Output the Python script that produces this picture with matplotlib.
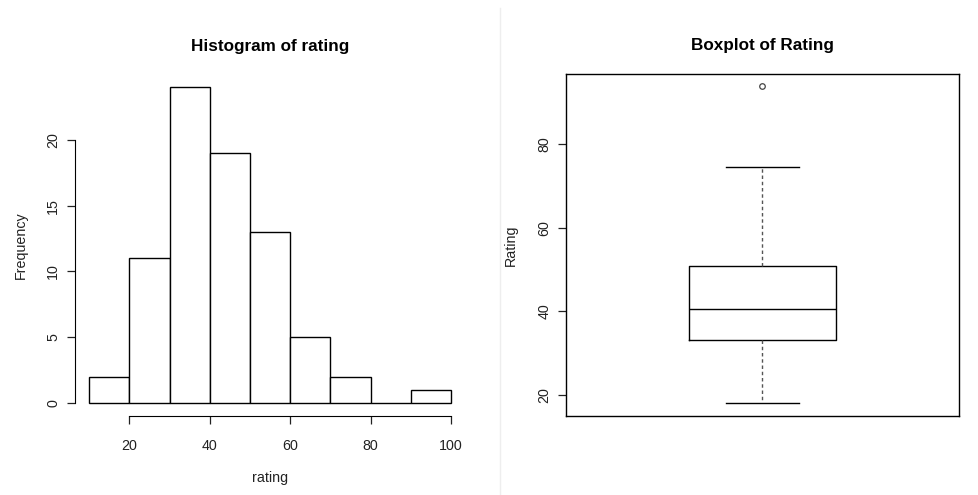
"""Histogram and boxplot of rating, R base-graphics look."""
import matplotlib
matplotlib.use("Agg")
import matplotlib.pyplot as plt
from matplotlib.lines import Line2D

plt.rcParams["font.family"] = ["Liberation Sans", "DejaVu Sans"]

# ---- data ----
bin_edges = [10, 20, 30, 40, 50, 60, 70, 80, 90, 100]
counts = [2, 11, 24, 19, 13, 5, 2, 0, 1]

box_low_whisker = 18.1
box_q1 = 33.2
box_median = 40.5
box_q3 = 50.8
box_high_whisker = 74.6
box_outliers = [94.0]

hist_xticks = [20, 40, 60, 80, 100]
hist_yticks = [0, 5, 10, 15, 20]
box_yticks = [20, 40, 60, 80]

TXT = "#222222"
TICK_FS = 10.3
LAB_FS = 10.3
TITLE_FS = 12.3

fig = plt.figure(figsize=(9.79, 4.95), dpi=100)

# ---- left: histogram ----
ax1 = fig.add_axes([0.0762, 0.1604, 0.3993, 0.6885])
widths = [b - a for a, b in zip(bin_edges[:-1], bin_edges[1:])]
ax1.bar(bin_edges[:-1], counts, width=widths, align="edge",
        color="white", edgecolor="black", linewidth=1.0)
ax1.set_xlim(6.4, 103.6)
ax1.set_ylim(-0.96, 24.96)
for s in ["top", "right"]:
    ax1.spines[s].set_visible(False)
ax1.spines["left"].set_bounds(0, 20)
ax1.spines["bottom"].set_bounds(20, 100)
ax1.set_xticks(hist_xticks)
ax1.set_yticks(hist_yticks)
ax1.set_yticklabels([str(v) for v in hist_yticks], rotation=90, va="center")
ax1.tick_params(length=6, width=0.9, labelsize=TICK_FS, colors=TXT, pad=4.5)
ax1.tick_params(axis="x", pad=11)
ax1.set_title("Histogram of rating", fontsize=TITLE_FS, fontweight="bold", pad=17)
ax1.set_xlabel("rating", fontsize=LAB_FS, color=TXT, labelpad=13)
ax1.set_ylabel("Frequency", fontsize=LAB_FS, color=TXT, labelpad=13)

# ---- right: boxplot ----
ax2 = fig.add_axes([0.5781, 0.1596, 0.4014, 0.691])
stats = [{
    "whislo": box_low_whisker, "q1": box_q1, "med": box_median,
    "q3": box_q3, "whishi": box_high_whisker, "fliers": box_outliers,
}]
ax2.bxp(stats, positions=[1], widths=0.374, showcaps=True,
        boxprops=dict(color="black", linewidth=1.0),
        medianprops=dict(color="black", linewidth=1.0),
        whiskerprops=dict(color="#555555", linewidth=1.0, linestyle=(0, (2.5, 2))),
        capprops=dict(color="black", linewidth=1.0),
        flierprops=dict(marker="o", markersize=4, markerfacecolor="white",
                        markeredgecolor="#444444", markeredgewidth=0.9))
ax2.set_xlim(0.5, 1.5)
ax2.set_ylim(14.97, 96.83)
ax2.set_xticks([])
ax2.set_yticks(box_yticks)
ax2.set_yticklabels([str(v) for v in box_yticks], rotation=90, va="center")
ax2.tick_params(axis="y", length=6, width=0.9, labelsize=TICK_FS, colors=TXT, pad=4.5)
for s in ax2.spines.values():
    s.set_linewidth(1.0)
ax2.set_title("Boxplot of Rating", fontsize=TITLE_FS, fontweight="bold", pad=17)
ax2.set_ylabel("Rating", fontsize=LAB_FS, color=TXT, labelpad=14)

# light separator between the two panels
fig.add_artist(Line2D([500 / 979, 500 / 979], [0, 487 / 495],
                      transform=fig.transFigure, color="#eeeeee", linewidth=1))

fig.savefig("out.png", dpi=100)
